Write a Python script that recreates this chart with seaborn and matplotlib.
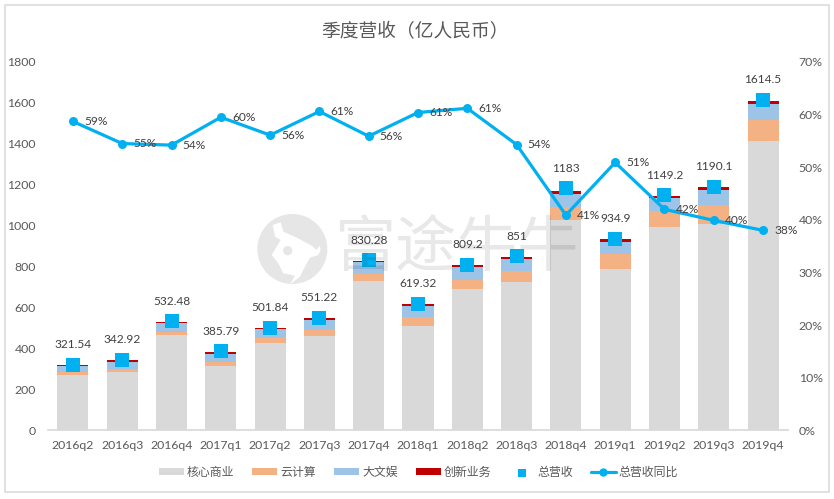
import matplotlib
matplotlib.use("Agg")
import matplotlib.pyplot as plt
from matplotlib.patches import Rectangle, Ellipse, Polygon
from matplotlib.ticker import FuncFormatter
import seaborn as sns
import numpy as np
import pandas as pd

quarters = ["2016q2", "2016q3", "2016q4", "2017q1", "2017q2", "2017q3", "2017q4", "2018q1",
            "2018q2", "2018q3", "2018q4", "2019q1", "2019q2", "2019q3", "2019q4"]
core = [270, 285, 466, 314, 427, 461, 730, 510, 690, 725, 1028, 788, 994, 1008, 1414]
cloud = [17, 13, 14, 20, 24, 29, 34, 42, 44, 52, 62, 74, 78, 93, 103]
media = [27, 36, 43, 39, 44, 49, 58, 55, 64, 60, 65, 60, 63, 74, 78]
innovation = [5, 9, 6, 10, 5, 10, 5, 10, 10, 10, 15, 13, 10, 15, 15]
total = [321.54, 342.92, 532.48, 385.79, 501.84, 551.22, 830.28, 619.32,
         809.2, 851, 1183, 934.9, 1149.2, 1190.1, 1614.5]
total_labels = ["321.54", "342.92", "532.48", "385.79", "501.84", "551.22", "830.28", "619.32",
                "809.2", "851", "1183", "934.9", "1149.2", "1190.1", "1614.5"]
yoy = [58.7, 54.5, 54.2, 59.5, 56.1, 60.6, 55.9, 60.4, 61.2, 54.3, 40.9, 50.9, 42.0, 39.9, 38.0]
yoy_labels = ["59%", "55%", "54%", "60%", "56%", "61%", "56%", "61%", "61%", "54%",
              "41%", "51%", "42%", "40%", "38%"]

sns.set_theme(style="white")
plt.rcParams['font.family'] = ['Lato', 'Noto Sans CJK SC', 'DejaVu Sans']

GREY, ORANGE, LBLUE, RED, CYAN = "#d9d9d9", "#f4b183", "#9dc3e6", "#c00000", "#00b0f0"
TXT = "#595959"
W, H = 834, 499

df = pd.DataFrame({"q": quarters, "core": core, "cloud": cloud, "media": media,
                   "innovation": innovation, "total": total, "yoy": yoy})

fig = plt.figure(figsize=(W / 100, H / 100), dpi=100)
ax = fig.add_axes([48.3 / W, 1 - 430.3 / H, 739.4 / W, 368.3 / H])

# stacked bars
bottom = np.zeros(len(df))
for col, color, name in [("core", GREY, "核心商业"), ("cloud", ORANGE, "云计算"),
                         ("media", LBLUE, "大文娱"), ("innovation", RED, "创新业务")]:
    sns.barplot(data=df, x="q", y=col, color=color, bottom=bottom, width=0.63,
                saturation=1, linewidth=0, ax=ax, label=name)
    bottom += df[col].values

sns.scatterplot(data=df, x="q", y="total", marker="s", s=88, color=CYAN, linewidth=0,
                ax=ax, label="总营收", zorder=4)

ax.set_xlim(-0.5, 14.5)
ax.set_ylim(0, 1800)
ax.set_yticks(range(0, 1801, 200))
ax.set_xlabel("")
ax.set_ylabel("")
ax.tick_params(axis="both", length=0, labelsize=8.8, labelcolor=TXT)
ax.tick_params(axis="x", pad=7)
ax.tick_params(axis="y", pad=9)
for s in ["top", "left", "right"]:
    ax.spines[s].set_visible(False)
ax.spines["bottom"].set_color("#d9d9d9")

ax2 = ax.twinx()
sns.lineplot(data=df, x="q", y="yoy", color=CYAN, linewidth=2.3, marker="o", markersize=6.5,
             markeredgewidth=0, ax=ax2, label="总营收同比", zorder=5)
ax2.set_ylim(0, 70)
ax2.set_yticks(range(0, 71, 10))
ax2.yaxis.set_major_formatter(FuncFormatter(lambda v, p: f"{v:.0f}%"))
ax2.set_ylabel("")
ax2.tick_params(axis="y", length=0, labelsize=8.8, labelcolor=TXT, pad=8)
for s in ax2.spines.values():
    s.set_visible(False)
ax2.grid(False)
ax.grid(False)

# value labels
for i, lab in enumerate(total_labels):
    ax2.annotate(lab, (i, total[i] * 70 / 1800), xytext=(0, 14.5), textcoords="offset points", ha="center",
                 va="center", fontsize=8.6, color="#404040", zorder=6)
for i, lab in enumerate(yoy_labels):
    ax2.annotate(lab, (i, yoy[i]), xytext=(8, 0), textcoords="offset points", ha="left",
                 va="center", fontsize=8.6, color="#404040", zorder=6)

# legend
h1, l1 = ax.get_legend_handles_labels()
h2, l2 = ax2.get_legend_handles_labels()
ax2.get_legend().remove()
ax.get_legend().remove()
by_label = dict(zip(l1 + l2, h1 + h2))
order = ["核心商业", "云计算", "大文娱", "创新业务", "总营收", "总营收同比"]
leg = fig.legend([by_label[k] for k in order], order, loc="center", bbox_to_anchor=(418.5 / W, 1 - 472 / H),
                 ncol=6, frameon=False, fontsize=8.6, labelcolor=TXT, columnspacing=1.5, handlelength=2.1,
                 handleheight=0.6, handletextpad=0.25, markerscale=0.6)
leg.legend_handles[-1].set_markersize(6)

fig.text(415.5 / W, 1 - 31 / H, "季度营收（亿人民币）", ha="center", va="center", fontsize=13.5, color=TXT)


# watermark logo, traced in zoomed pixels around the circle
def logo_xy(zx, zy):
    return ((250 + zx / 3) / W, 1 - (205 + zy / 3) / H)


WM = "#e6e6e6"
logo_pts = [(68, 60), (92, 52), (100, 80), (140, 98), (185, 122), (200, 135), (208, 122), (212, 135), (205, 150),
            (180, 158), (165, 185), (150, 215), (120, 238), (135, 212), (100, 205), (85, 175), (65, 150),
            (92, 105), (75, 95)]
fig.add_artist(Ellipse(logo_xy(127, 132), 70 / W, 70 / H, facecolor=WM, edgecolor="none",
                       transform=fig.transFigure))
fig.add_artist(Polygon([logo_xy(*p) for p in logo_pts], closed=True, facecolor="white", edgecolor="none",
                       transform=fig.transFigure))
fig.add_artist(Ellipse(logo_xy(113, 137), 28 / 3 / W, 28 / 3 / H, facecolor=WM, edgecolor="none",
                       transform=fig.transFigure))
fig.text(456 / W, 1 - 249 / H, "富途牛牛", ha="center", va="center", fontsize=44, color="black", alpha=0.09,
         family=["Noto Sans CJK SC"], fontweight=500, zorder=10)

# chart frame
fig.add_artist(Rectangle((4.5 / W, 1 - 492 / H), 824 / W, 487.5 / H, fill=False,
                         edgecolor="#d9d9d9", linewidth=1.1, transform=fig.transFigure))

fig.savefig("out.png", dpi=100)
